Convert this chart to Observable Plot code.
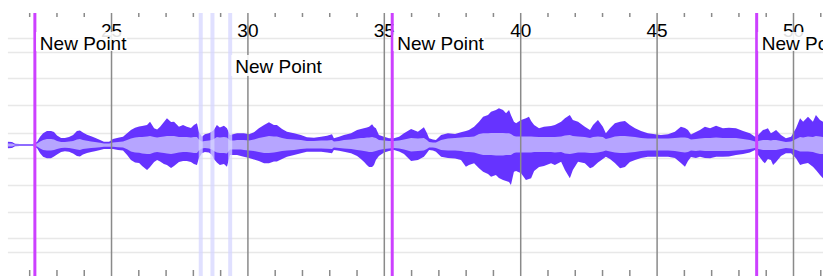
<!DOCTYPE html>
<html>
<head>
<meta charset="utf-8">
<script src="https://cdn.jsdelivr.net/npm/d3@7"></script>
<script src="https://cdn.jsdelivr.net/npm/@observablehq/plot@0.6"></script>
<style>
  html, body { margin: 0; padding: 0; background: #fff; }
  #chart svg { display: block; }
</style>
</head>
<body>
<div id="chart"></div>
<script>
// ---- data (time in seconds, amplitude in display units) ----
const times = [21.22,21.37,21.48,21.66,21.88,22.14,22.29,22.40,22.51,22.65,22.80,22.91,23.02,23.17,23.31,23.46,23.61,23.75,23.86,23.97,24.12,24.27,24.41,24.60,24.74,24.93,25.07,25.26,25.44,25.59,25.73,25.88,26.03,26.14,26.32,26.43,26.58,26.69,26.80,26.94,27.05,27.20,27.31,27.49,27.64,27.78,27.93,28.04,28.15,28.22,28.33,28.44,28.59,28.70,28.77,28.88,28.99,29.14,29.25,29.36,29.51,29.62,29.76,29.87,30.06,30.24,30.42,30.61,30.79,30.97,31.08,31.27,31.45,31.71,31.96,32.18,32.44,32.70,32.92,33.10,33.17,33.36,33.54,33.80,34.02,34.16,34.27,34.38,34.46,34.57,34.64,34.71,34.82,35.01,35.19,35.37,35.56,35.74,36.00,36.25,36.47,36.58,36.66,36.80,36.91,37.10,37.35,37.61,37.83,38.01,38.12,38.31,38.49,38.64,38.82,38.93,39.11,39.22,39.37,39.48,39.59,39.66,39.77,39.85,40.03,40.21,40.32,40.40,40.51,40.69,40.87,41.13,41.27,41.50,41.64,41.82,41.93,42.12,42.37,42.56,42.67,42.85,43.03,43.14,43.29,43.47,43.66,43.84,44.02,44.21,44.43,44.68,44.94,45.16,45.42,45.67,45.89,46.04,46.15,46.26,46.44,46.59,46.77,46.96,47.18,47.43,47.65,47.91,48.17,48.42,48.61,48.72,48.90,48.97,49.08,49.19,49.27,49.38,49.56,49.74,49.93,50.11,50.26,50.37,50.55,50.73,50.84,50.99,51.10];
const peakTop = [3.3,3,1.2,1,1,1,3.3,8.3,11.7,14,14,13,9.5,7,7,8,10,14,14.5,12.5,10.2,8.7,7.2,5,3.3,3.3,6,7.3,8.3,11.7,15,17.3,18.5,19,20,23.3,16.7,15.5,18.3,23,26.7,23,23.3,18.3,20,18.3,17,20,21.7,13.3,8.3,10.7,11.7,13.5,15,20,17.5,19.3,16.7,10,11,11.7,11.7,11.7,10.7,12.7,16.7,20,22.7,20,20,16,13.3,11.7,10,7.7,7.3,8.3,9.3,10.7,6.7,8.3,10,11.7,15,16,16.7,17.5,18.3,20.7,18,16.7,10,8.3,6.7,6.7,8.3,11.7,16,13.3,17.7,12,6.7,5.5,5,10,11.7,11,12.7,14,15,18.3,23.3,28.3,30,33.3,35,36.7,35,31.7,35,30,23.3,21.7,25,26.7,28.3,24,20,16.7,18.3,19,20,23.3,26.7,30,25,23.3,18.3,15,20,25,18.3,11.7,16.7,21.7,23.3,24,20,16.7,14,11.7,10.7,10,10.7,13.3,18.3,17,15,10.5,13,15,18.3,16.7,19.3,16.7,17.3,16.7,14,11.7,8.3,10,15,15.5,16.7,11.7,13,15,10,6.7,8.3,16.7,26.7,23.3,28.3,23.3,30,25,23.3];
const peakBottom = [3.3,3,1.2,1,1,1,3.3,8.3,11.7,13.3,13.3,11.5,9.5,7,6.2,6.8,8.5,11,11.5,9.5,8,7,6.3,5,4,4,4,5,5.5,10,15,17.5,18,21,25,22,17,15,16.5,19,20,23,21,17,16,16,17,19,20,13.3,8.3,7,7.5,10,14,17.5,20,19,21.7,10,10,10,11,11.7,13,14.5,16,18.3,18.3,16.5,16.5,14,11.7,10,8.3,6.7,6.7,6.7,7.5,8.3,5,5.8,6.7,8.3,11,14,16.7,20,22,22,20,15,11,7.5,6,5,6.5,9,16,15,11.7,8,5,5.5,6.7,11.7,13,13.5,15,21.7,20,18.3,23.3,26.7,29,31.7,30,33,35,36,37,40,26.7,26,28.3,35,34,33.3,26,22,21,18.3,20,16.7,25,33.3,25,16.7,18.3,23.3,22,17.5,14,11.7,14,18,23.3,22,17,15,13,11.7,11.7,11.7,11.7,13,18,21.7,16,12,13,11.7,13,13.3,11.7,11.7,11.5,10,9,7.5,5,10,16.5,18.3,14,15,20,17,11,8.3,8.3,13.3,20,19,18,21.7,25,30,33.3];
const rmsTop = [1.5,1.5,0.6,0.5,0.5,0.5,1.5,3.5,5,6,6,5.5,4,3,3,3.5,4,5.5,6,5,4.2,3.5,3,2.2,1.5,1.5,2.5,3,3.5,5,6.5,7.5,8,8,8.5,9,8,7.5,8,8.5,9,9,9,8,8,8,7.5,8,8,5.5,3.5,4,4.5,5,6,8,7.5,8,7.5,4.5,4.5,5,5,5,4.5,5.5,7,8,9,8.5,8.5,7,6,5.5,5,4,4,4.5,4.5,5,3.5,4,5,5.5,6.5,7,7,7.5,7.5,8,7.5,7,5,4.5,4,4,4.5,5.5,7,6.5,7,5,3,2.5,2.5,5,6.5,7,7.5,8,8,8.5,11,11.7,11.7,12,12,12,12,11.7,11.7,11,9,8.5,8.5,8.5,8.5,8.5,8.3,8,8,8,8,8.5,9.5,10,9,8.5,8,7,8,8.5,8,6,7,8.5,9,9,8.5,8,7,6.5,6.5,6.5,6.5,7,7.5,7.5,7,5.5,6,6.5,7,7,7.5,7,7,7,6,5,3.5,4,5,5,5,4.5,5,5,4,3,3.5,6,8,7.5,8.5,8,9,8.5,8];
const rmsBottom = [1.5,1.5,0.6,0.5,0.5,0.5,1.5,3.5,5,5.5,5.5,5,4,3,2.7,3,3.7,4.5,5,4,3.5,3,2.7,2.2,1.8,1.8,1.8,2.2,2.5,4.3,6.5,7.5,7.8,8.5,9,9,7.5,7,7.5,8,8.5,9,8.5,7.5,7,7,7.5,8,8,5.5,3.5,3,3.5,4.5,6,7.5,8,8,8.5,4.5,4.5,4.5,4.5,5,5.5,6,7,8,8,7.5,7,6,5.5,5,4,3.5,3.5,3.5,3.8,4,2.5,3,3.5,4,5,5.5,6,6.5,7,7,6.5,6,5,4,3.5,3,3.5,4.5,6.5,6,5.5,4,2.5,2.5,3,5,5.5,5.5,6,7,7,7.5,9,10,10,10,10.5,10.5,10.5,10,10,10,8,7.5,7.5,7.5,7.5,7.5,7,7,7,7,7.5,7,8.5,9,8.5,7.5,7.5,8,8,7.5,6.5,5.5,6.5,7.5,8,8,7.5,7,6,5.5,5.5,5.5,5.5,6,7,7.5,7,5.5,6,5.5,6,6,6,6,6,5.5,5,4,3,4,5,5,5,5,5,5,4,3,3.5,5,6.5,6.5,6.5,7,8,9,9];

const pointTimes = [22.19, 35.29, 48.65];
const pointLabels = ["New Point", "New Point", "New Point"];
const regionTimes = [28.27, 28.70, 29.35];
const regionLabel = ["New Point"];
const regionLabelTime = [29.35];
const majorTicks = [25, 30, 35, 40, 45, 50];
const minorTicks = [22,23,24,26,27,28,29,31,32,33,34,36,37,38,39,41,42,43,44,46,47,48,49,51];
const gridLevels = [107, 93, 67, 40, 12, -13, -40, -67, -93, -107];

// ---- build ----
const wave = times.map((t, i) => ({t, top: peakTop[i], bot: -peakBottom[i], rt: rmsTop[i], rb: -rmsBottom[i]}));
const points = pointTimes.map((t, i) => ({t, label: pointLabels[i]}));
const regionLabels = regionLabelTime.map((t, i) => ({t, label: regionLabel[i]}));
const labelW = 3.4; // seconds width of label backing
const font = "'Lucida Grande', 'Liberation Sans', Arial, sans-serif";
const yTop = 132, yBottom = -131, xStart = 21.22, xEnd = 51.10;

const chart = Plot.plot({
  width: 823,
  height: 276,
  margin: 0,
  x: {domain: [20.93, 51.10], axis: null},
  y: {domain: [-131, 145], axis: null},
  style: {background: "#fff"},
  marks: [
    Plot.ruleY(gridLevels, {y: d => d, x1: xStart, x2: xEnd, stroke: "#e8e8e8", strokeWidth: 1.6}),
    Plot.areaY(wave, {x: "t", y1: "bot", y2: "top", fill: "#6633ff", curve: "linear"}),
    Plot.areaY(wave, {x: "t", y1: "rb", y2: "rt", fill: "#b6a5ff", curve: "linear"}),
    Plot.ruleX(majorTicks, {x: d => d, y1: yBottom, y2: yTop, stroke: "#8a8a8a", strokeWidth: 1.5}),
    Plot.ruleX(minorTicks, {x: d => d, y1: 128, y2: yTop, stroke: "#8a8a8a", strokeWidth: 1.5}),
    Plot.ruleX(minorTicks, {x: d => d, y1: yBottom, y2: -125, stroke: "#8a8a8a", strokeWidth: 1.5}),
    Plot.text(majorTicks, {x: d => d, y: 115, text: d => String(d), fontSize: 19, fontFamily: font, fill: "#000", textAnchor: "middle"}),
    Plot.ruleX(regionTimes, {x: d => d, y1: yBottom, y2: yTop, stroke: "#d6d6ff", strokeOpacity: 0.75, strokeWidth: 4}),
    Plot.ruleX(pointTimes, {x: d => d, y1: yBottom, y2: yTop, stroke: "#cc40ff", strokeWidth: 3}),
    Plot.rect(points, {x1: d => d.t + 0.06, x2: d => d.t + labelW, y1: 94, y2: 113, fill: "#fff", fillOpacity: 0.88}),
    Plot.rect(regionLabels, {x1: d => d.t + 0.06, x2: d => d.t + labelW, y1: 69, y2: 90, fill: "#fff", fillOpacity: 0.88}),
    Plot.text(points, {x: "t", y: 101.7, text: "label", dx: 5, textAnchor: "start", fontSize: 19, fontFamily: font, fill: "#000"}),
    Plot.text(regionLabels, {x: "t", y: 79, text: "label", dx: 5, textAnchor: "start", fontSize: 19, fontFamily: font, fill: "#000"})
  ]
});
document.getElementById("chart").appendChild(chart);
</script>
</body>
</html>
